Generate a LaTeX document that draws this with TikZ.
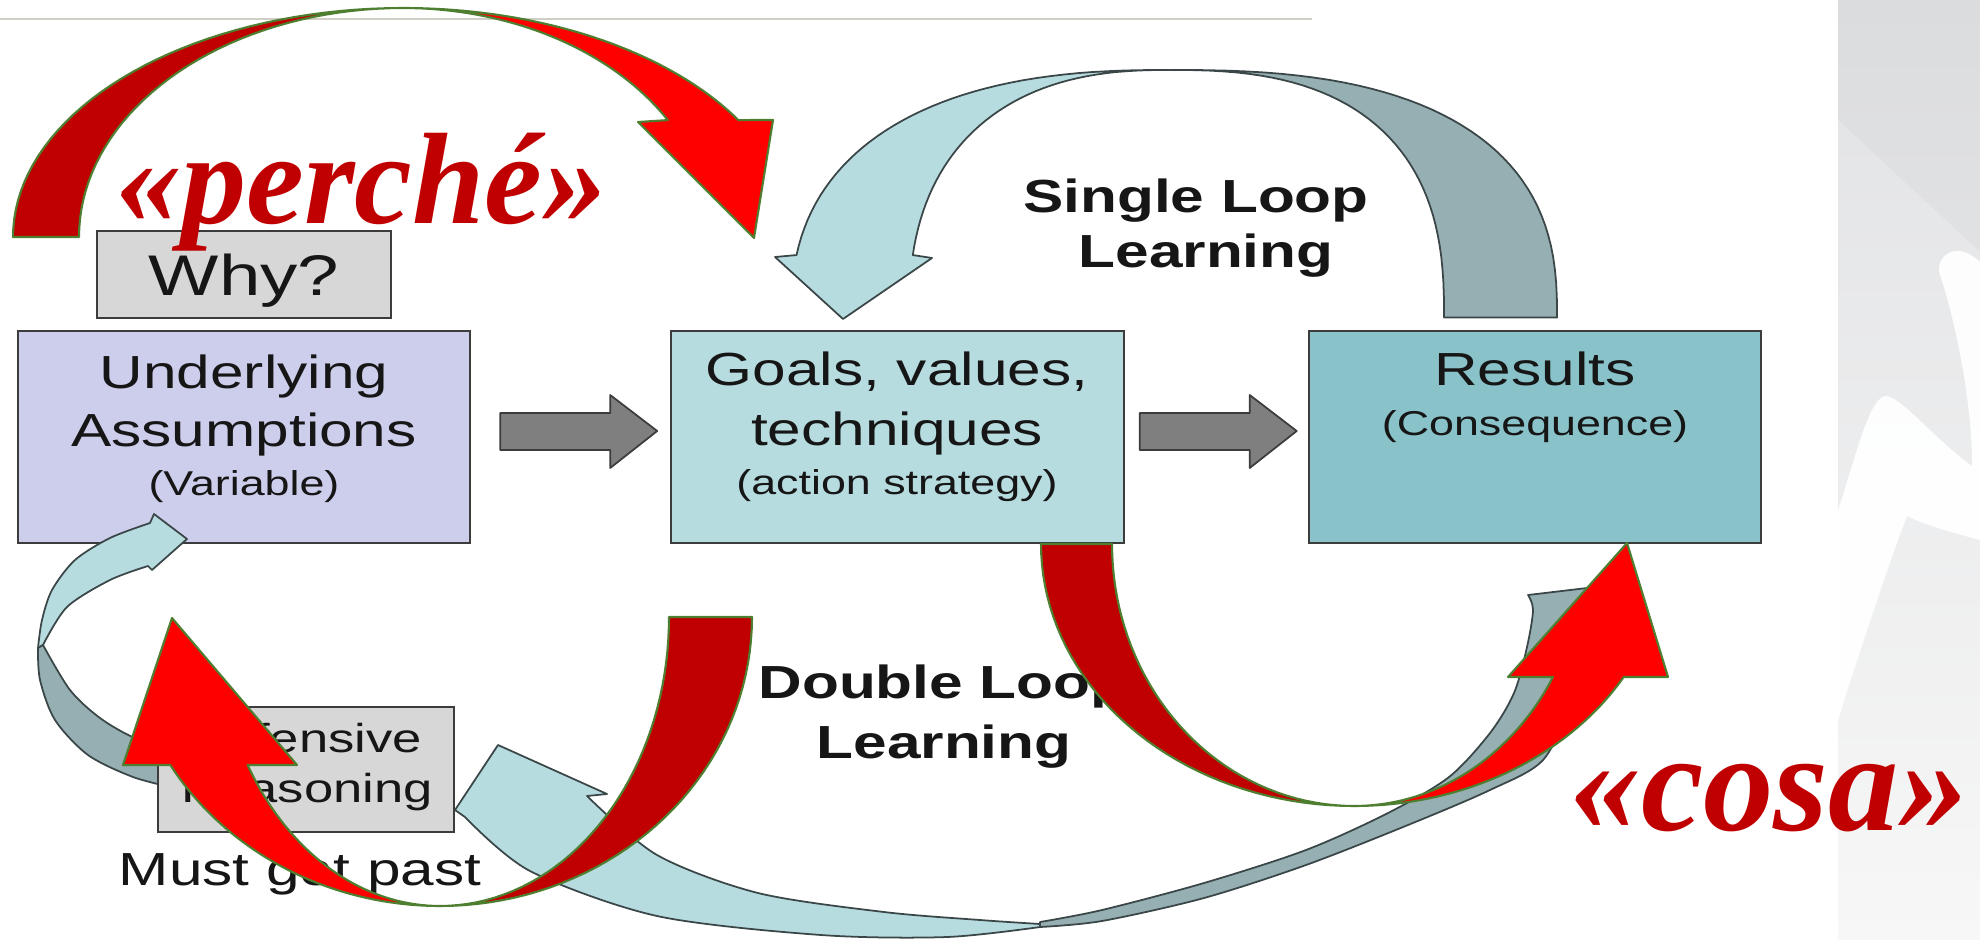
\documentclass[tikz,border=0pt]{standalone}
\usepackage{fontspec}
\setmainfont{Liberation Sans}[FakeStretch=1.3]
\newfontfamily\redfont{Liberation Serif}
\usetikzlibrary{calc}

\definecolor{ink}{HTML}{161616}
\definecolor{lavender}{HTML}{CDCDEC}
\definecolor{tealLight}{HTML}{B7DCE0}
\definecolor{tealMid}{HTML}{89C2C9}
\definecolor{tealDark}{HTML}{95AFB2}
\definecolor{tealLine}{HTML}{3A4647}
\definecolor{boxgray}{HTML}{D7D7D7}
\definecolor{boxline}{HTML}{3C3C3C}
\definecolor{arrowgray}{HTML}{7F7F7F}
\definecolor{reddark}{HTML}{C00000}
\definecolor{redbright}{HTML}{FF0000}
\definecolor{redline}{HTML}{4E7F30}
\definecolor{panelTop}{HTML}{E1E2E4}
\definecolor{panelBot}{HTML}{F7F7F7}
\definecolor{topline}{HTML}{CFCFC6}

\begin{document}
\begin{tikzpicture}[x=0.01cm, y=-0.01cm, samples=40,
    txt/.style={inner sep=0pt, anchor=base, text=ink},
    bigtxt/.style={txt, font=\fontsize{13.2}{15}\selectfont},
    smalltxt/.style={txt, font=\fontsize{9.8}{12}\selectfont},
    looptxt/.style={txt, font=\bfseries\fontsize{13.2}{15}\selectfont},
    redtxt/.style={txt, text=reddark, font=\redfont\bfseries\itshape\fontsize{40}{44}\selectfont},
    box/.style={draw=boxline, line width=0.6pt, inner sep=0pt, minimum width=4.52cm, minimum height=2.12cm},
    blockarrow/.style={fill=arrowgray, draw=boxline, line width=0.5pt, line join=round},
    tealarrow/.style={draw=tealLine, line width=0.5pt, line join=round},
    redarrow/.style={draw=redline, line width=0.6pt, line join=round}]
    \useasboundingbox (0,0) rectangle (1980,940);

    % Background panel on the right
    \shade[top color=panelTop, bottom color=panelBot] (1838,0) rectangle (1980,940);
    \fill[black, opacity=0.025] (1838,0) -- (1980,0) -- (1980,252) -- (1838,120) -- cycle;
    \fill[white, opacity=0.95] (1838,510) .. controls (1855,460) and (1868,400) .. (1885,396)
        .. controls (1900,395) and (1935,440) .. (1972,466)
        .. controls (1972,400) and (1955,320) .. (1940,275)
        .. controls (1934,258) and (1955,238) .. (1980,262) -- (1980,540)
        .. controls (1950,532) and (1925,525) .. (1907,516)
        .. controls (1890,560) and (1860,650) .. (1838,720) -- cycle;
    \draw[topline, line width=0.8pt] (0,19) -- (1312,19);

    % Boxes
    \node[box, fill=boxgray, minimum width=2.94cm, minimum height=0.87cm] (why) at (244,274.5) {};
    \node[box, fill=lavender] (ua) at (244,437) {};
    \node[box, fill=tealLight] (goals) at (897.5,437) {};
    \node[box, fill=tealMid] (res) at (1535,437) {};

    % Small loop under the assumptions
    \filldraw[tealarrow, fill=tealLight] (187,539) -- (154,514) -- (150,523)
        -- plot[smooth] coordinates {(150,523) (110,538) (75,560) (52,590) (42,620) (38,648)}
        -- plot[smooth] coordinates {(43,645) (67,607) (110,580) (148,566)} -- (152,570) -- cycle;
    \filldraw[tealarrow, fill=tealDark] plot[smooth] coordinates {(38,648) (40,680) (55,720) (88,755) (133,777) (175,788)}
        -- (175,748) -- plot[smooth] coordinates {(175,748) (135,738) (100,718) (70,690) (43,645)} -- cycle;
    \node[box, fill=boxgray, minimum width=2.96cm, minimum height=1.25cm] (def) at (306,769.5) {};

    % Block arrows between the boxes
    \filldraw[blockarrow] (ua.east) ++(29,-24) -- ++(110,0) -- ++(0,-18) -- ++(47,36) -- ++(-47,37) -- ++(0,-18) -- ++(-110,0) -- cycle;
    \filldraw[blockarrow] (goals.east) ++(15,-24) -- ++(110,0) -- ++(0,-18) -- ++(47,36) -- ++(-47,37) -- ++(0,-18) -- ++(-110,0) -- cycle;

    % Single loop
    \filldraw[tealarrow, fill=tealDark] plot[domain=0.02:89.98] ({1169+388*cos(\x)^0.77}, {318-248*sin(\x)^0.77})
        -- plot[domain=89.98:0.02] ({1169+275*cos(\x)^0.77}, {318-248*sin(\x)^0.77}) -- cycle;
    \filldraw[tealarrow, fill=tealLight] plot[domain=89.98:10.8] ({1169-378*cos(\x)^0.82}, {318-248*sin(\x)^0.82})
        -- (775,257) -- (843,319) -- (932,258)
        -- plot[domain=10.8:89.98] ({1169-260*cos(\x)^0.82}, {318-248*sin(\x)^0.82}) -- cycle;

    % Double loop
    \filldraw[tealarrow, fill=tealDark] plot[smooth] coordinates {(1040,922) (1102,910) (1204,883) (1306,850) (1388,813) (1449,777) (1490,733) (1514,693) (1527,647) (1533,610) (1528,595)}
        -- (1587,588) -- plot[smooth] coordinates {(1587,588) (1586,640) (1572,700) (1543,760) (1490,790) (1408,825) (1306,865) (1204,898) (1102,921) (1040,927)} -- cycle;
    \filldraw[tealarrow, fill=tealLight] (455,810) -- (498,745) -- (607,794) -- (587,796)
        -- plot[smooth] coordinates {(587,796) (657,855) (758,893) (884,912) (980,920) (1040,924)}
        -- plot[smooth] coordinates {(1040,927) (947,937) (821,935) (657,916) (530,871) (465,817)} -- cycle;

    % Box texts
    \node[txt, font=\fontsize{16.3}{18}\selectfont] (whyt) at (244,296) {Why?};
    \node[bigtxt] (ua1) at (244,388) {Underlying};
    \node[bigtxt] (ua2) at (244,446) {Assumptions};
    \node[smalltxt] (ua3) at (244,495) {(Variable)};
    \node[bigtxt] (go1) at (897,386) {Goals, values,};
    \node[bigtxt] (go2) at (897,445) {techniques};
    \node[smalltxt] (go3) at (897,494) {(action strategy)};
    \node[bigtxt] (re1) at (1535,386) {Results};
    \node[smalltxt] (re2) at (1535,435) {(Consequence)};
    \node[txt, font=\fontsize{11.5}{14}\selectfont] (de1) at (305,752) {Defensive};
    \node[txt, font=\fontsize{11.5}{14}\selectfont] (de2) at (307,802) {Reasoning};
    \node[bigtxt] (must) at (300,885) {Must get past};
    \node[looptxt] (sl1) at (1196,213) {Single Loop};
    \node[looptxt] (sl2) at (1206,268) {Learning};
    \node[looptxt] (dl1) at (943,698) {Double Loop};
    \node[looptxt] (dl2) at (944,758) {Learning};

    % Red arrows
    \filldraw[redarrow, fill=reddark] plot[domain=180:270] ({403+390*cos(\x)}, {237+229*sin(\x)})
        -- plot[domain=270:180] ({403+324*cos(\x)}, {237+229*sin(\x)}) -- cycle;
    \filldraw[redarrow, fill=redbright] plot[domain=270:329.3] ({403+390*cos(\x)}, {237+229*sin(\x)})
        -- (773,120) -- (754,238) -- (638,122)
        -- plot[domain=329.3:270] ({403+308*cos(\x)}, {237+229*sin(\x)}) -- cycle;

    \filldraw[redarrow, fill=reddark] plot[domain=0:90] ({440+312*cos(\x)}, {617+289*sin(\x)})
        -- plot[domain=90:0] ({440+229*cos(\x)}, {617+289*sin(\x)}) -- cycle;
    \filldraw[redarrow, fill=redbright] plot[domain=90:149.2] ({440+314*cos(\x)}, {617+289*sin(\x)})
        -- (123,765) -- (172,618) -- (297,765)
        -- plot[domain=149.2:90] ({440+224*cos(\x)}, {617+289*sin(\x)}) -- cycle;

    \filldraw[redarrow, fill=reddark] plot[domain=180:90] ({1354+313*cos(\x)}, {544+262*sin(\x)})
        -- plot[domain=90:180] ({1354+242*cos(\x)}, {544+262*sin(\x)}) -- cycle;
    \filldraw[redarrow, fill=redbright] plot[domain=90:30.5] ({1354+313*cos(\x)}, {544+262*sin(\x)})
        -- (1668,677) -- (1627,543) -- (1508,677)
        -- plot[domain=30.5:90] ({1354+231*cos(\x)}, {544+262*sin(\x)}) -- cycle;

    % Red words
    \node[redtxt, font=\redfont\bfseries\itshape\fontsize{37}{41}\selectfont] (perche) at (362,224) {«perché»};
    \node[redtxt] (cosa) at (1770,830) {«cosa»};
\end{tikzpicture}
\end{document}
